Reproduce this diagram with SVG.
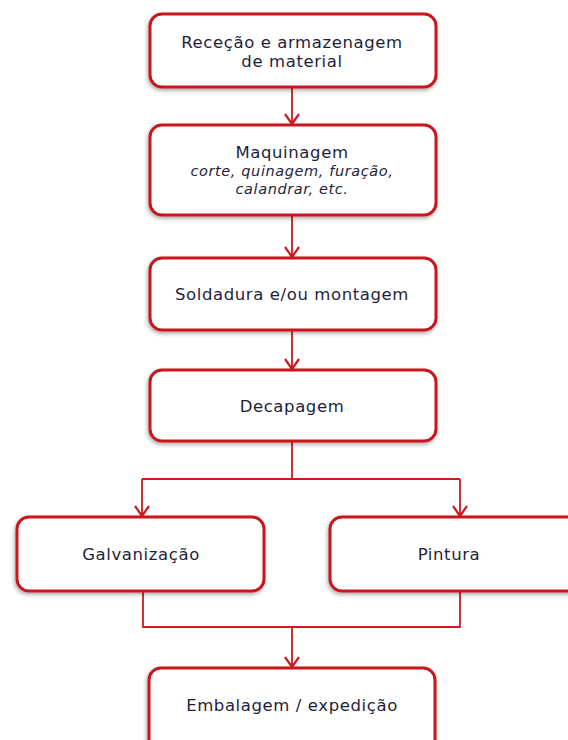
<svg xmlns="http://www.w3.org/2000/svg" width="568" height="740" viewBox="0 0 568 740">
<defs>
<filter id="sh" x="-10%" y="-10%" width="120%" height="130%">
<feGaussianBlur in="SourceAlpha" stdDeviation="2"/>
<feOffset dx="-1" dy="2" result="b"/>
<feComponentTransfer><feFuncA type="linear" slope="0.35"/></feComponentTransfer>
<feMerge><feMergeNode/><feMergeNode in="SourceGraphic"/></feMerge>
</filter>
<marker id="arr" markerUnits="userSpaceOnUse" markerWidth="18" markerHeight="18" refX="11" refY="8" orient="auto" viewBox="0 0 18 16">
<path d="M1,1 L11,8 L1,15" fill="none" stroke="#cc1a1f" stroke-width="2.2"/>
</marker>
<style>
.box{fill:#fff;stroke:#c8151c;stroke-width:3;filter:url(#sh)}
.t{font-family:"DejaVu Sans","Liberation Sans",Arial,sans-serif;font-size:16.5px;letter-spacing:0.6px;fill:#1e1e3c;text-anchor:middle}
.i{font-style:italic;font-size:14.5px}
.c{fill:none;stroke:#cc1a1f;stroke-width:1.8}
</style>
</defs>
<g id="connectors">
<path class="c" d="M292,88 V124" marker-end="url(#arr)"/>
<path class="c" d="M292,215 V257" marker-end="url(#arr)"/>
<path class="c" d="M292,330 V369" marker-end="url(#arr)"/>
<path class="c" d="M292,441 V479"/>
<path class="c" d="M142,479 H460"/>
<path class="c" d="M142,479 V516" marker-end="url(#arr)"/>
<path class="c" d="M460,479 V516" marker-end="url(#arr)"/>
<path class="c" d="M143,591 V627 H460 V591"/>
<path class="c" d="M292,627 V667" marker-end="url(#arr)"/>
</g>
<g id="n1"><rect class="box" x="150" y="14" width="286" height="73" rx="12"/>
<text class="t" x="292" y="48">Receção e armazenagem</text>
<text class="t" x="292" y="67">de material</text></g>
<g id="n2"><rect class="box" x="150" y="125" width="286" height="90" rx="12"/>
<text class="t" x="292" y="158">Maquinagem</text>
<text class="t i" x="292" y="176">corte, quinagem, furação,</text>
<text class="t i" x="292" y="194">calandrar, etc.</text></g>
<g id="n3"><rect class="box" x="150" y="258" width="286" height="72" rx="12"/>
<text class="t" x="292" y="300">Soldadura e/ou montagem</text></g>
<g id="n4"><rect class="box" x="150" y="370" width="286" height="71" rx="12"/>
<text class="t" x="292" y="412">Decapagem</text></g>
<g id="n5"><rect class="box" x="17" y="517" width="247" height="74" rx="12"/>
<text class="t" x="141" y="560">Galvanização</text></g>
<g id="n6"><rect class="box" x="330" y="517" width="260" height="74" rx="12"/>
<text class="t" x="449" y="560">Pintura</text></g>
<g id="n7"><rect class="box" x="149" y="668" width="286" height="90" rx="12"/>
<text class="t" x="292" y="711">Embalagem / expedição</text></g>
</svg>
